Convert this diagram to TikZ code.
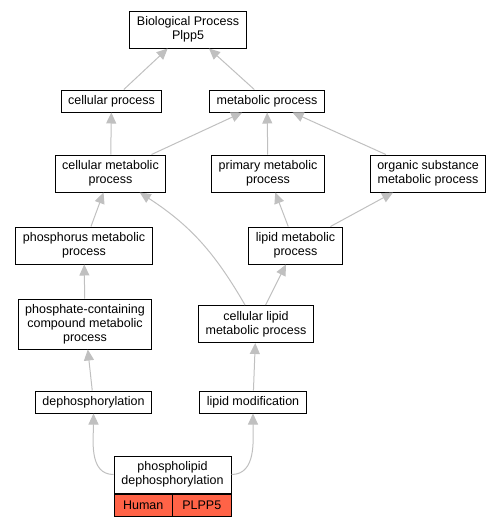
\documentclass[tikz,border=0pt]{standalone}
\usepackage{fontspec}
\setmainfont{Liberation Sans}
\usepackage{tikz}
\usetikzlibrary{arrows.meta,positioning}
\definecolor{edgegray}{RGB}{192,192,192}
\definecolor{tomato}{RGB}{255,99,71}
\tikzset{%
	term/.style  = {draw, rectangle, line width=1pt, minimum height=22pt, inner xsep=7pt, inner ysep=2pt, align=center, font=\fontsize{12.5pt}{14pt}\selectfont},
	term2/.style = {term, minimum height=37pt},
	term3/.style = {term, minimum height=50pt},
	cell/.style  = {term, fill=tomato, minimum width=58.5pt},
	isa/.style   = {edgegray, line width=1pt, -{Triangle[length=11pt,width=10pt]}},
}
\begin{document}
\begin{tikzpicture}[x=1pt,y=-1pt]
		\useasboundingbox (0,0) rectangle (501,525);
		% terms
		\node[term2] (bp) at (188,29.5) {Biological Process\\Plpp5};
		\node[term] (cp) at (111.5,101) {cellular process};
		\node[term] (mp) at (267,101) {metabolic process};
		\node[term2] (cmp) at (110.5,173.5) {cellular metabolic\\process};
		\node[term2] (pmp) at (268,173.5) {primary metabolic\\process};
		\node[term2] (osmp) at (428,173.5) {organic substance\\metabolic process};
		\node[term2] (phmp) at (84,245.5) {phosphorus metabolic\\process};
		\node[term2] (lmp) at (295.5,245.5) {lipid metabolic\\process};
		\node[term3] (pcmp) at (85,324) {phosphate-containing\\compound metabolic\\process};
		\node[term2] (clmp) at (256,324) {cellular lipid\\metabolic process};
		\node[term] (dph) at (93.5,402) {dephosphorylation};
		\node[term] (lmod) at (253,402) {lipid modification};
		\node[term2, minimum width=117pt] (pld) at (172.5,474.5) {phospholipid\\dephosphorylation};
		\node[cell, anchor=north west] (human) at (pld.south west) {Human};
		\node[cell, anchor=north east] (gene) at (pld.south east) {PLPP5};
		% is_a links
		\draw[isa] (cp) -- (bp);
		\draw[isa] (mp) -- (bp);
		\draw[isa] (cmp) -- (cp);
		\draw[isa] (cmp) -- (mp);
		\draw[isa] (pmp) -- (mp);
		\draw[isa] (osmp) -- (mp);
		\draw[isa] (phmp) -- (cmp);
		\draw[isa] (lmp) -- (pmp);
		\draw[isa] (lmp) -- (osmp);
		\draw[isa] (pcmp) -- (phmp);
		\draw[isa] (clmp) to[out=120,in=-33] (cmp);
		\draw[isa] (clmp) -- (lmp);
		\draw[isa] (dph) -- (pcmp);
		\draw[isa] (lmod) -- (clmp);
		\draw[isa] (pld) to[out=180,in=-90] (dph);
		\draw[isa] (pld) to[out=0,in=-90] (lmod);
	\end{tikzpicture}
\end{document}
